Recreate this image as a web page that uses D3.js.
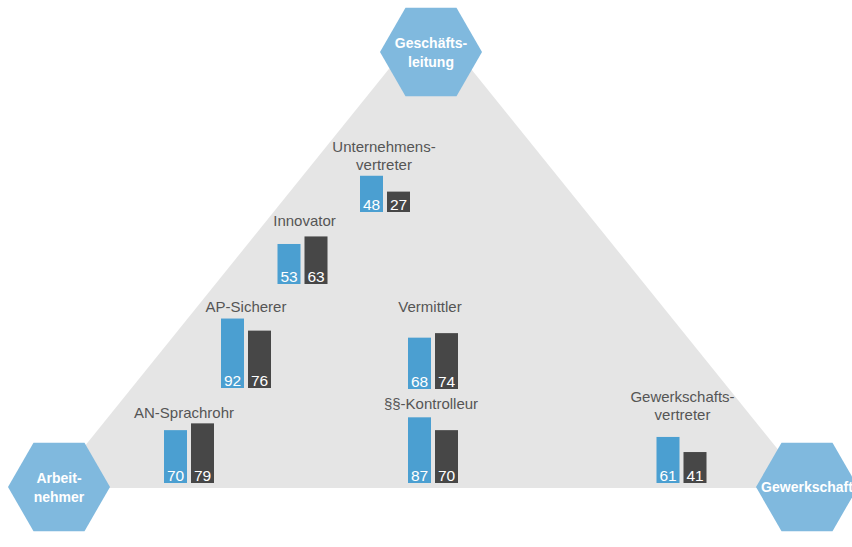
<!DOCTYPE html>
<html>
<head>
<meta charset="utf-8">
<script src="https://cdn.jsdelivr.net/npm/d3@7"></script>
<style>
  body { margin: 0; background: #fff; }
  svg { display: block; font-family: "Liberation Sans", Arial, sans-serif; }
</style>
</head>
<body>
<svg id="chart"></svg>
<script>
// roles inside the triangle, two values each (blue / dark)
var roles = ["Unternehmens-\nvertreter", "Innovator", "AP-Sicherer", "Vermittler",
             "AN-Sprachrohr", "§§-Kontrolleur", "Gewerkschafts-\nvertreter"];
var blueValues = [48, 53, 92, 68, 70, 87, 61];
var darkValues = [27, 63, 76, 74, 79, 70, 41];
var series = ["blue", "dark"];

// the three corners
var corners = ["Geschäfts-\nleitung", "Arbeit-\nnehmer", "Gewerkschaft"];

var width = 852,
    height = 547;

// where each group sits in the triangle (centre x, bar base, label baseline, label shift)
var groupLayout = [
  { cx: 385,   base: 212, labelY: 170, labelDx: -1 },
  { cx: 302.5, base: 284, labelY: 226, labelDx: 2 },
  { cx: 246,   base: 388, labelY: 312, labelDx: 0 },
  { cx: 433,   base: 389, labelY: 312, labelDx: -3 },
  { cx: 189,   base: 483, labelY: 418, labelDx: -5 },
  { cx: 433,   base: 483, labelY: 409, labelDx: -2 },
  { cx: 681.5, base: 483, labelY: 420, labelDx: 1 }
];
var cornerLayout = [
  { x: 431, y: 52 },
  { x: 59,  y: 487 },
  { x: 807, y: 487 }
];

var colors = { blue: "#4b9fd1", dark: "#474747" };

var svg = d3.select("#chart")
  .attr("width", width)
  .attr("height", height);

// grey triangle behind everything
svg.append("path")
  .attr("d", "M430,18L51,488L809,488Z")
  .attr("fill", "#e5e5e5");

var h = d3.scaleLinear().domain([0, 100]).range([0, 75.5]);
var xb = d3.scaleBand().domain(series).range([-25, 25]).paddingInner(4 / 27);

var data = roles.map(function (r, i) {
  return { role: r, blue: blueValues[i], dark: darkValues[i], pos: groupLayout[i] };
});

var groups = svg.selectAll("g.group")
  .data(data)
  .enter()
  .append("g")
    .attr("class", "group")
    .attr("transform", d => "translate(" + d.pos.cx + ",0)");

// labels (one or two lines)
groups.each(function (d) {
  var lines = d.role.split("\n");
  var g = d3.select(this);
  lines.forEach(function (line, k) {
    g.append("text")
      .attr("x", d.pos.labelDx)
      .attr("y", d.pos.labelY - (lines.length - 1 - k) * 18)
      .attr("text-anchor", "middle")
      .attr("font-size", 15)
      .attr("fill", "#555")
      .text(line);
  });
});

var bars = groups.selectAll("g.bar")
  .data(d => series.map(s => ({ key: s, value: d[s], base: d.pos.base })))
  .enter()
  .append("g")
    .attr("class", "bar");

bars.append("rect")
  .attr("x", d => xb(d.key))
  .attr("y", d => d.base - h(d.value))
  .attr("width", xb.bandwidth())
  .attr("height", d => h(d.value))
  .attr("fill", d => colors[d.key]);

bars.append("text")
  .attr("x", d => xb(d.key) + xb.bandwidth() / 2)
  .attr("y", d => d.base - 2)
  .attr("text-anchor", "middle")
  .attr("font-size", 15.5)
  .attr("fill", "#fff")
  .text(d => d.value);

// hexagons at the corners
var r = 51;
var hexPoints = d3.range(6).map(function (k) {
  var a = Math.PI / 3 * k;
  return [r * Math.cos(a), r * Math.sin(a)];
});

var hex = svg.selectAll("g.corner")
  .data(corners)
  .enter()
  .append("g")
    .attr("class", "corner")
    .attr("transform", (d, i) => "translate(" + cornerLayout[i].x + "," + cornerLayout[i].y + ")");

hex.append("polygon")
  .attr("points", hexPoints.map(p => p.join(",")).join(" "))
  .attr("fill", "#80b9de");

hex.each(function (d) {
  var lines = d.split("\n");
  var g = d3.select(this);
  lines.forEach(function (line, k) {
    g.append("text")
      .attr("x", 0)
      .attr("y", 5 + (k - (lines.length - 1) / 2) * 19)
      .attr("text-anchor", "middle")
      .attr("font-size", 14)
      .attr("font-weight", "bold")
      .attr("fill", "#fff")
      .text(line);
  });
});
</script>
</body>
</html>
